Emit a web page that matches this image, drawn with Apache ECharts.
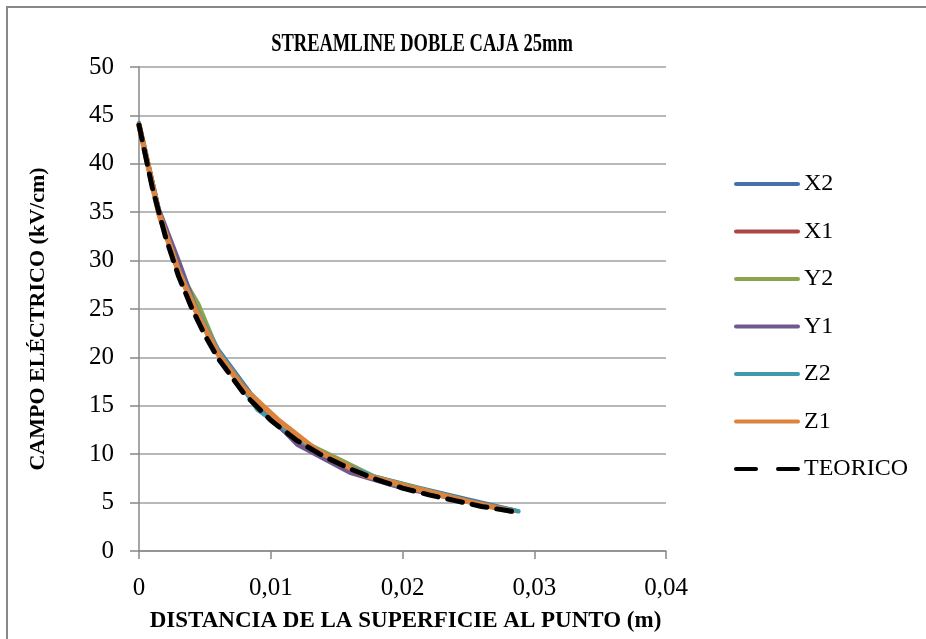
<!DOCTYPE html>
<html><head><meta charset="utf-8">
<script src="https://cdn.jsdelivr.net/npm/echarts@6/dist/echarts.min.js"></script>
<style>html,body{margin:0;padding:0;background:#fff}#c{width:926px;height:639px}</style>
</head><body><div id="c"></div>
<script>
const xTicks = [0, 0.01, 0.02, 0.03, 0.04];
const seriesNames = ['X2', 'X1', 'Y2', 'Y1', 'Z2', 'Z1', 'TEORICO'];
const colors = ['#4472A8', '#A94743', '#89A64E', '#71598F', '#4199B0', '#DC843D', '#000000'];
const titleText = 'STREAMLINE DOBLE CAJA 25mm';
const xName = 'DISTANCIA DE LA SUPERFICIE AL PUNTO (m)';
const yName = 'CAMPO ELÉCTRICO (kV/cm)';

const X2 = [[0,44.2],[0.0015,35.2],[0.003,29.3],[0.0045,24.8],[0.006,20.8],[0.0085,16.2],[0.011,12.7],[0.0135,10.5],[0.017,8.0],[0.021,6.6],[0.025,5.3],[0.0285,4.2]];
const X1 = [[0,44.0],[0.0015,34.8],[0.003,28.8],[0.0045,24.2],[0.006,20.3],[0.0085,15.8],[0.011,12.4],[0.0135,10.2],[0.017,7.8],[0.021,6.4],[0.025,5.1],[0.0284,4.2]];
const Y2 = [[0,44.1],[0.0015,35.0],[0.003,29.0],[0.0045,25.5],[0.006,20.6],[0.0085,16.0],[0.012,11.6],[0.015,9.6],[0.018,7.6],[0.022,6.2],[0.0255,5.0],[0.0285,4.2]];
const Y1 = [[0,44.0],[0.0015,35.3],[0.003,30.0],[0.0045,24.4],[0.006,20.4],[0.0085,15.9],[0.012,11.0],[0.016,8.1],[0.02,6.5],[0.024,5.4],[0.0284,4.2]];
const Z2 = [[0,44.0],[0.0015,35.0],[0.003,29.1],[0.0045,24.6],[0.006,20.7],[0.009,14.6],[0.0125,11.2],[0.0155,9.0],[0.019,7.0],[0.023,5.8],[0.026,4.8],[0.0288,4.1]];
const Z1 = [[0,44.0],[0.0015,34.9],[0.003,28.9],[0.0045,24.3],[0.006,20.4],[0.0078,17.0],[0.0105,13.6],[0.0135,10.4],[0.017,7.9],[0.021,6.4],[0.025,5.1],[0.0283,4.1]];
const TEORICO = [[0,44.0],[0.001,37.6],[0.002,32.5],[0.003,28.4],[0.004,25.1],[0.005,22.3],[0.006,19.9],[0.008,16.2],[0.010,13.5],[0.012,11.4],[0.014,9.8],[0.016,8.5],[0.018,7.4],[0.020,6.5],[0.022,5.8],[0.024,5.2],[0.026,4.6],[0.0283,4.1]];

const dataMap = {X2, X1, Y2, Y1, Z2, Z1, TEORICO};
const FONT = '"Liberation Serif", "DejaVu Serif", serif';
const SOLID_ICON = 'path://M2,0H64A2,2 0 0 1 64,4H2A2,2 0 0 1 2,0Z';
const DASH_ICON = 'path://M2,0H22A2,2 0 0 1 22,4H2A2,2 0 0 1 2,0Z M44,0H64A2,2 0 0 1 64,4H44A2,2 0 0 1 44,0Z';

const chart = echarts.init(document.getElementById('c'));
const series = seriesNames.map((n, i) => ({
  name: n,
  type: 'line',
  data: dataMap[n],
  symbol: 'none',
  smooth: false,
  z: n === 'TEORICO' ? 10 : 2 + i,
  lineStyle: n === 'TEORICO'
    ? {color: colors[i], width: 5, type: [15, 10], cap: 'round'}
    : {color: colors[i], width: n === 'Z1' ? 5.5 : 4.5, cap: 'round', join: 'round'},
  itemStyle: {color: colors[i]}
}));

chart.setOption({
  animation: false,
  backgroundColor: '#fff',
  grid: {left: 139, right: 260, top: 67, bottom: 88, containLabel: false},
  legend: {
    orient: 'vertical', left: 729, top: 167,
    itemWidth: 66, itemHeight: 5, itemGap: 23.5,
    data: seriesNames.map(n => ({name: n, icon: n === 'TEORICO' ? DASH_ICON : SOLID_ICON})),
    textStyle: {fontFamily: FONT, fontSize: 24, color: '#000', lineHeight: 24, height: 24, padding: [0, 0, 0, -1]}
  },
  xAxis: {
    type: 'value', min: 0, max: 0.04, interval: 0.01,
    name: xName,
    nameLocation: 'middle', nameGap: 59,
    nameTextStyle: {fontFamily: FONT, fontWeight: 'bold', fontSize: 23, color: '#000', padding: [0, 0, 0, 6]},
    axisLine: {lineStyle: {color: '#888', width: 1.5}},
    axisTick: {show: true, length: 8, lineStyle: {color: '#888', width: 1.5}},
    axisLabel: {fontFamily: FONT, fontSize: 25, color: '#000', margin: 25,
      formatter: v => { const i = xTicks.findIndex(t => Math.abs(t - v) < 1e-9); return i >= 0 ? String(xTicks[i]).replace('.', ',') : ''; }},
    splitLine: {show: false}
  },
  yAxis: {
    type: 'value', min: 0, max: 50, interval: 5,
    axisLine: {show: true, lineStyle: {color: '#888', width: 1.5}},
    axisTick: {show: true, length: 9, lineStyle: {color: '#888', width: 1.5}},
    axisLabel: {fontFamily: FONT, fontSize: 25, color: '#000', margin: 25},
    splitLine: {show: true, lineStyle: {color: '#a0a0a0', width: 1.5}}
  },
  graphic: [
    {type: 'line', shape: {x1: 7, y1: 7, x2: 7, y2: 639}, style: {stroke: '#888', lineWidth: 2}},
    {type: 'line', shape: {x1: 6, y1: 7, x2: 926, y2: 7}, style: {stroke: '#888', lineWidth: 2}},
    {type: 'text', x: 422, y: 45, scaleX: 0.74, scaleY: 1,
      style: {text: titleText, font: 'bold 25px ' + FONT, fill: '#000', textAlign: 'center', textVerticalAlign: 'middle'}},
    {type: 'text', x: 38, y: 319, rotation: Math.PI / 2,
      style: {text: yName, font: 'bold 22px ' + FONT, fill: '#000', textAlign: 'center', textVerticalAlign: 'middle'}}
  ],
  series
});
</script></body></html>
